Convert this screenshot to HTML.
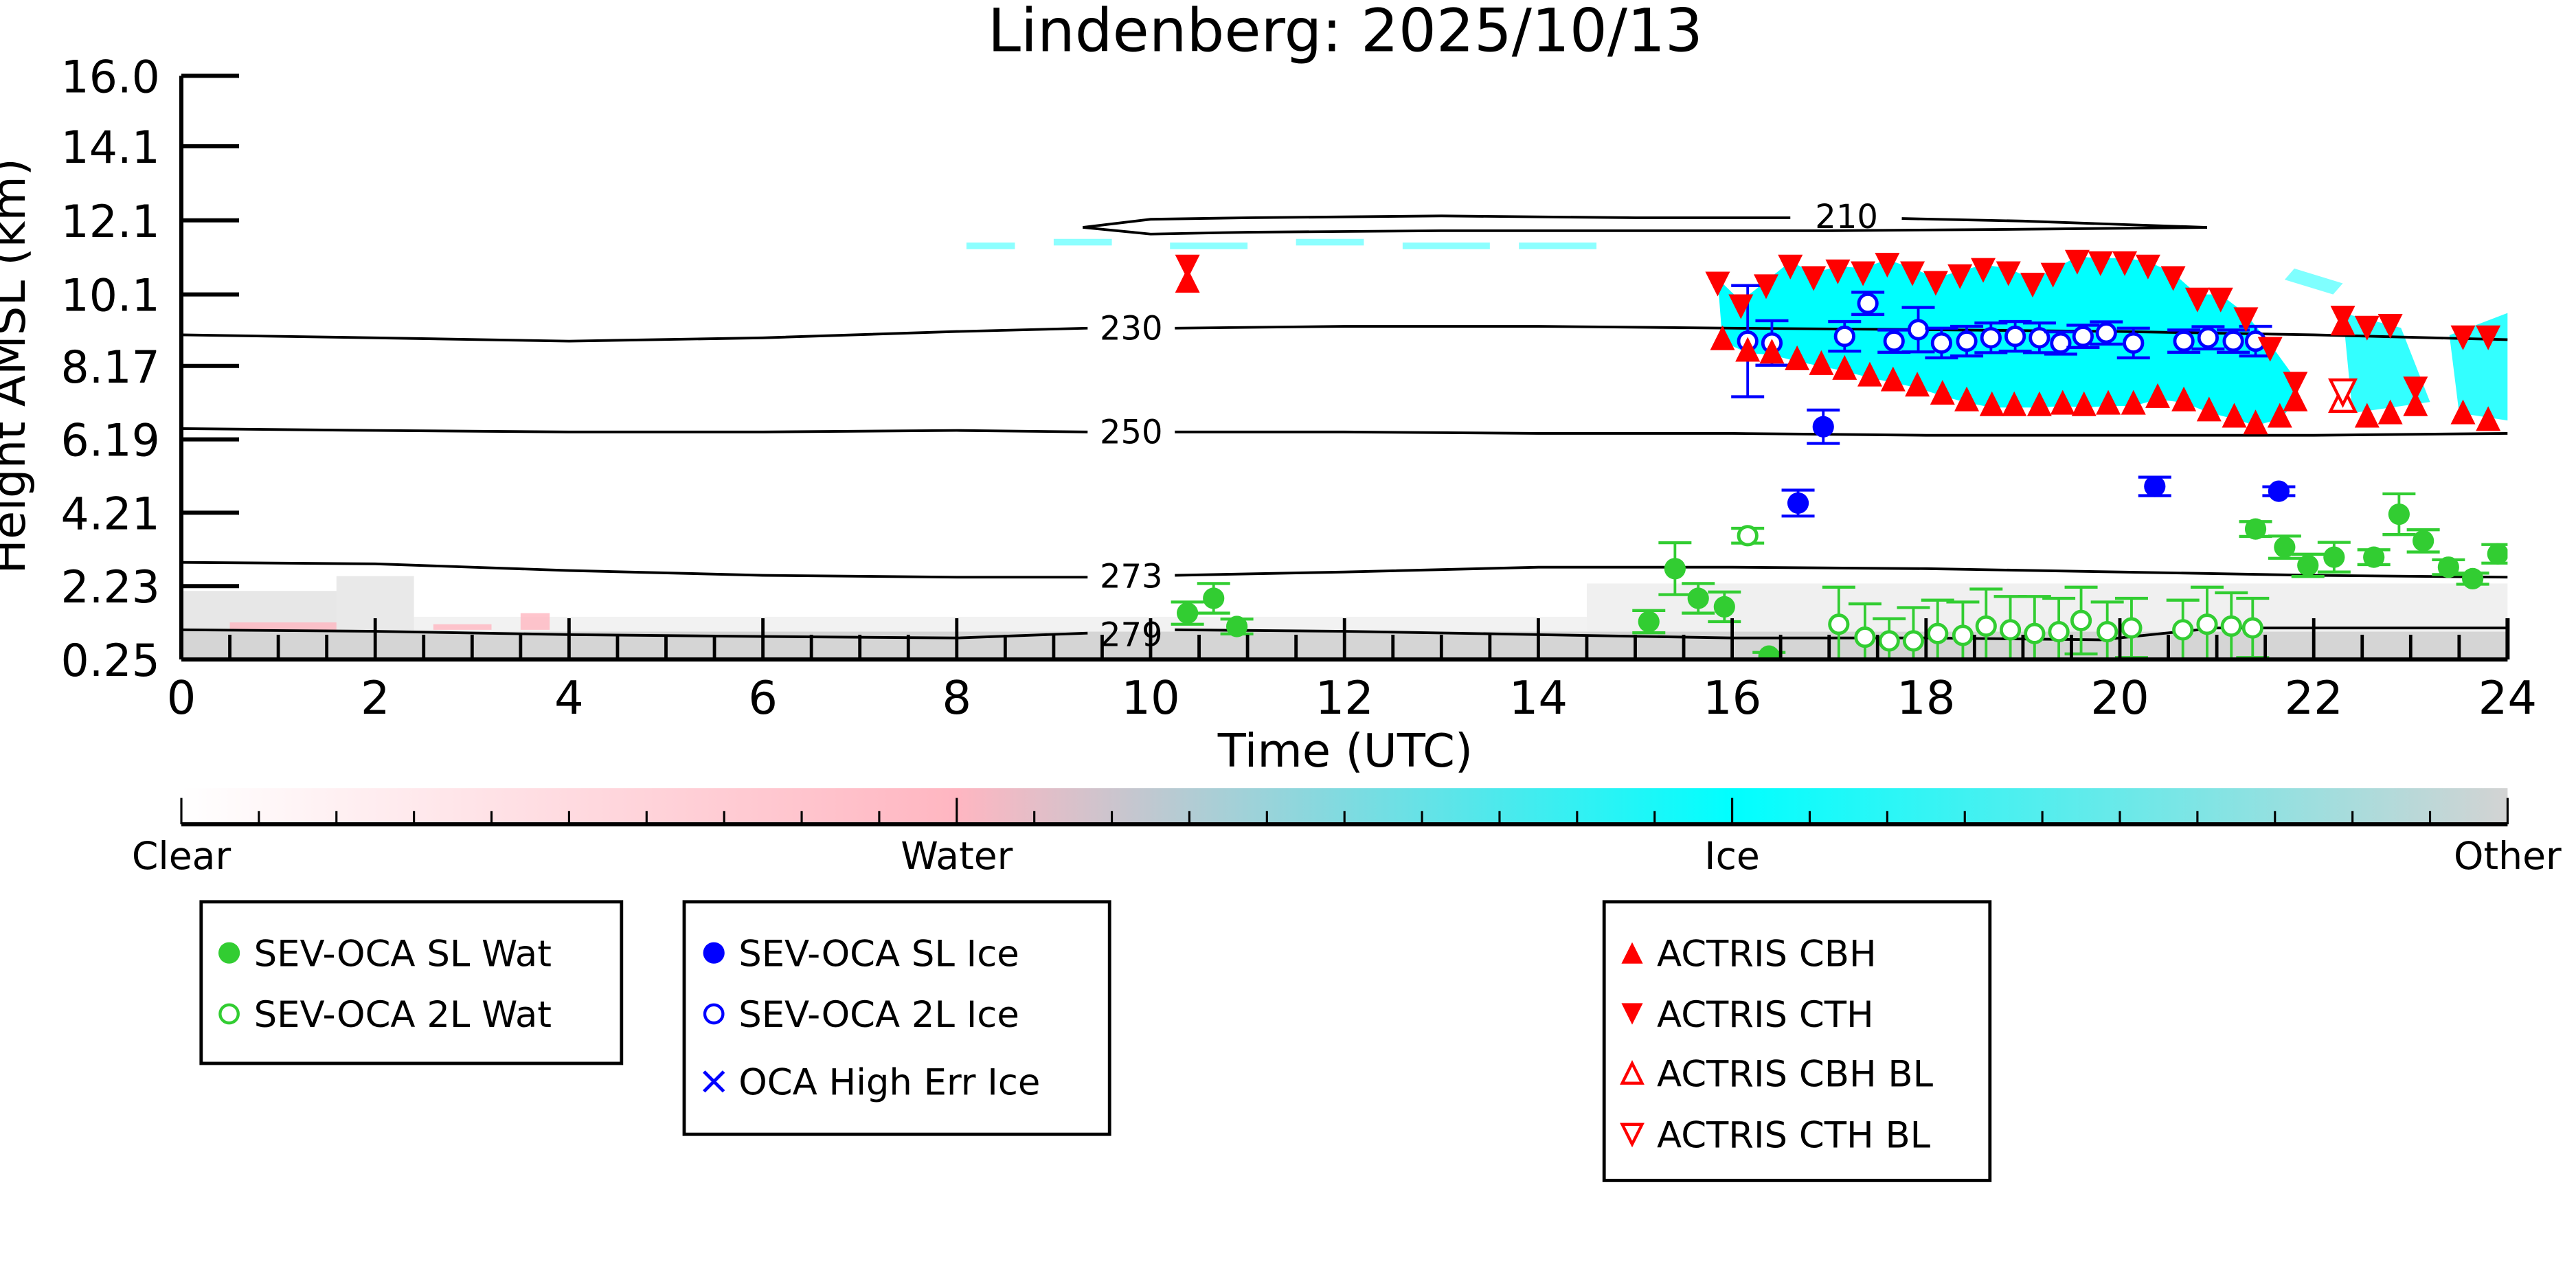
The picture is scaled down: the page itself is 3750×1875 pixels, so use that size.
<!DOCTYPE html>
<html><head><meta charset="utf-8"><style>
html,body{margin:0;padding:0;background:#fff;}
svg{display:block;font-family:"DejaVu Sans","Liberation Sans",sans-serif;}
</style></head><body>
<svg id="chart" width="3750" height="1875" viewBox="0 0 1562.5 781.25" xmlns="http://www.w3.org/2000/svg">
<defs>
<linearGradient id="cbar" x1="0" x2="1" y1="0" y2="0">
<stop offset="0" stop-color="#ffffff"/>
<stop offset="0.333" stop-color="#ffb6c1"/>
<stop offset="0.667" stop-color="#00ffff"/>
<stop offset="1" stop-color="#d3d3d3"/>
</linearGradient>
<clipPath id="plotclip"><rect x="110" y="46" width="1411" height="354"/></clipPath>
</defs>
<text x="816" y="31" font-size="36" text-anchor="middle">Lindenberg: 2025/10/13</text>
<g id="plot" clip-path="url(#plotclip)"></g>
<g id="axes"></g>
<text x="816" y="465" font-size="28" text-anchor="middle">Time (UTC)</text>
<text transform="translate(15,222) rotate(-90)" font-size="28" text-anchor="middle">Height AMSL (km)</text>
<g id="colorbar">
<rect x="110" y="478" width="1411" height="22" fill="url(#cbar)"/>
</g>
<g id="legends"></g>
</svg>
<script>
// ---- data ----
const yTicks = [0.25, 2.23, 4.21, 6.19, 8.17, 10.1, 12.1, 14.1, 16.0];
const yTickLabels = ["0.25","2.23","4.21","6.19","8.17","10.1","12.1","14.1","16.0"];
const xTicks = [0,2,4,6,8,10,12,14,16,18,20,22,24];

const slWatH = [10.38,10.65,10.89,15.14,15.41,15.65,15.92,16.38,21.40,21.70,21.94,22.21,22.62,22.88,23.13,23.39,23.64,23.90];
const slWatKm = [1.50,1.90,1.14,1.27,2.70,1.90,1.67,0.34,3.77,3.28,2.79,3.01,3.01,4.17,3.45,2.74,2.43,3.10];
const slWatErr = [0.3,0.4,0.2,0.3,0.7,0.4,0.4,0.1,0.2,0.3,0.3,0.4,0.2,0.55,0.3,0.2,0.15,0.25];

const twoLWatH = [16.16,17.10,17.37,17.62,17.87,18.12,18.38,18.62,18.87,19.12,19.37,19.60,19.87,20.12,20.65,20.90,21.15,21.37];
const twoLWatKm = [3.59,1.20,0.85,0.75,0.75,0.95,0.90,1.15,1.05,0.95,1.00,1.30,1.00,1.10,1.05,1.20,1.15,1.10];
const twoLWatErr = [0.2,1.0,0.9,0.6,0.9,0.9,0.9,1.0,0.9,1.0,0.9,0.9,0.8,0.8,0.8,1.0,0.9,0.8];

const slIceH = [16.68,16.94,20.36,21.64];
const slIceKm = [4.47,6.53,4.92,4.79];
const slIceErr = [0.35,0.45,0.25,0.12];

const twoLIceH = [16.16,16.41,17.16,17.40,17.67,17.92,18.16,18.42,18.67,18.92,19.17,19.39,19.62,19.86,20.14,20.66,20.91,21.17,21.40];
const twoLIceKm = [8.84,8.79,8.97,9.86,8.84,9.15,8.79,8.84,8.93,8.97,8.93,8.79,8.97,9.06,8.79,8.84,8.93,8.84,8.84];
const twoLIceErr = [1.5,0.6,0.4,0.3,0.3,0.6,0.4,0.4,0.4,0.4,0.4,0.3,0.3,0.3,0.4,0.3,0.3,0.3,0.4];

const cbhH = [10.38,15.90,16.16,16.41,16.67,16.92,17.16,17.42,17.66,17.91,18.17,18.42,18.68,18.91,19.17,19.41,19.63,19.88,20.14,20.39,20.66,20.92,21.18,21.40,21.65,21.81,22.30,22.55,22.79,23.05,23.54,23.80];
const cbhKm = [10.48,8.93,8.62,8.57,8.39,8.26,8.13,7.95,7.82,7.68,7.46,7.28,7.15,7.15,7.15,7.19,7.15,7.19,7.19,7.37,7.28,7.01,6.84,6.66,6.84,7.28,9.33,6.84,6.93,7.15,6.93,6.75];
const cthH = [10.38,15.85,16.09,16.35,16.60,16.84,17.09,17.35,17.60,17.86,18.10,18.35,18.59,18.85,19.10,19.31,19.56,19.80,20.05,20.29,20.55,20.80,21.04,21.30,21.55,21.81,22.30,22.55,22.79,23.05,23.54,23.80];
const cthKm = [10.84,10.38,9.77,10.31,10.84,10.53,10.71,10.66,10.89,10.66,10.40,10.58,10.75,10.66,10.35,10.62,10.97,10.93,10.93,10.84,10.53,9.95,9.95,9.42,8.62,7.68,9.46,9.19,9.24,7.55,8.93,8.93];
const cbhBlH = [22.30];
const cbhBlKm = [7.28];
const cthBlH = [22.30];
const cthBlKm = [7.46];

// temperature contours (hours, km)
const c230H = [0,2,4,6,8,9.35,10.25,12,14,16,18,20,22,24];
const c230Km = [9.01,8.93,8.84,8.93,9.10,9.19,9.19,9.24,9.24,9.19,9.15,9.10,9.01,8.88];
const c250H = [0,2,4,6,8,9.35,10.25,12,14,16,18,20,22,24];
const c250Km = [6.48,6.43,6.39,6.39,6.43,6.39,6.39,6.39,6.35,6.35,6.30,6.30,6.30,6.35];
const c273H = [0,2,4,6,8,9.35,10.25,12,14,16,18,20,22,24];
const c273Km = [2.87,2.83,2.65,2.52,2.47,2.47,2.52,2.61,2.74,2.74,2.70,2.61,2.52,2.47];
const c279H = [0,2,4,6,8,9.35,10.25,12,14,16,18,19.8,21,24];
const c279Km = [1.05,1.01,0.92,0.87,0.83,0.96,1.05,1.01,0.92,0.83,0.83,0.78,1.10,1.10];
const c210TopH = [9.3,10,11,13,15,17,19,20.9];
const c210TopKm = [11.91,12.13,12.17,12.22,12.17,12.17,12.08,11.91];
const c210BotH = [20.9,19,17,15,13,11,10,9.3];
const c210BotKm = [11.91,11.86,11.82,11.82,11.82,11.78,11.73,11.91];

const cbarLabels = ["Clear","Water","Ice","Other"];

// ---- scales ----
const X0=110, X1=1521, Y0=400, Y1=46;
function xs(h){return X0+(h/24)*(X1-X0);}
function ys(k){return Y0-(k-0.25)/(16.0-0.25)*(Y0-Y1);}
const NS="http://www.w3.org/2000/svg";
function el(tag,attrs,parent){const e=document.createElementNS(NS,tag);for(const k in attrs)e.setAttribute(k,attrs[k]);parent.appendChild(e);return e;}
const plot=document.getElementById('plot');
const axes=document.getElementById('axes');

// ---- background radar texture (decorative) ----
const bg=el('g',{},plot);


el('rect',{x:X0,y:ys(1.0),width:X1-X0,height:Y0-ys(1.0),fill:'#d3d3d3',opacity:0.95},bg);
el('rect',{x:xs(0),y:ys(2.1),width:xs(1.6)-xs(0),height:ys(1.0)-ys(2.1),fill:'#d3d3d3',opacity:0.55},bg);
el('rect',{x:xs(1.6),y:ys(2.5),width:xs(2.4)-xs(1.6),height:ys(1.0)-ys(2.5),fill:'#d3d3d3',opacity:0.5},bg);
el('rect',{x:xs(14.5),y:ys(2.3),width:xs(24)-xs(14.5),height:ys(1.0)-ys(2.3),fill:'#d3d3d3',opacity:0.35},bg);
el('rect',{x:xs(2.4),y:ys(1.4),width:xs(14.5)-xs(2.4),height:ys(1.0)-ys(1.4),fill:'#d3d3d3',opacity:0.3},bg);
el('rect',{x:xs(0.5),y:ys(1.25),width:xs(1.6)-xs(0.5),height:ys(1.05)-ys(1.25),fill:'#ffb6c1',opacity:0.8},bg);
el('rect',{x:xs(2.6),y:ys(1.2),width:xs(3.2)-xs(2.6),height:ys(1.05)-ys(1.2),fill:'#ffb6c1',opacity:0.8},bg);
el('rect',{x:xs(3.5),y:ys(1.5),width:xs(3.8)-xs(3.5),height:ys(1.05)-ys(1.5),fill:'#ffb6c1',opacity:0.8},bg);
// ice cloud
let ptsTop=[],ptsBot=[];
for(let i=1;i<26;i++){ptsTop.push(xs(cthH[i])+','+ys(cthKm[i]+0.15));}
for(let i=25;i>=1;i--){ptsBot.push(xs(cbhH[i])+','+ys(cbhKm[i]-0.1));}
el('polygon',{points:ptsTop.concat(ptsBot).join(' '),fill:'#00ffff'},bg);
el('polygon',{points:[xs(22.3)+','+ys(9.6),xs(22.9)+','+ys(9.2),xs(23.2)+','+ys(7.2),xs(22.4)+','+ys(6.9)].join(' '),fill:'#00ffff',opacity:0.8},bg);
el('polygon',{points:[xs(23.4)+','+ys(9.0),xs(24)+','+ys(9.6),xs(24)+','+ys(6.7),xs(23.5)+','+ys(6.9)].join(' '),fill:'#00ffff',opacity:0.8},bg);
el('polygon',{points:[xs(21.8)+','+ys(10.8),xs(22.3)+','+ys(10.4),xs(22.2)+','+ys(10.1),xs(21.7)+','+ys(10.5)].join(' '),fill:'#00ffff',opacity:0.5},bg);
[[8.1,11.5,0.5],[9.0,11.6,0.6],[10.2,11.5,0.8],[11.5,11.6,0.7],[12.6,11.5,0.9],[13.8,11.5,0.8]].forEach(p=>{
  el('rect',{x:xs(p[0]),y:ys(p[1]),width:xs(p[0]+p[2])-xs(p[0]),height:4,fill:'#00ffff',opacity:0.45},bg);
});

// ---- contours ----
function contour(H,K,name){
  const g=el('polyline',{points:H.map((h,i)=>xs(h)+','+ys(K[i])).join(' '),fill:'none',stroke:'#000','stroke-width':1.6},plot);
  
  
}
contour(c230H.slice(0,6),c230Km.slice(0,6),'contour-230');
contour(c230H.slice(6),c230Km.slice(6),'contour-230-right');
contour(c250H.slice(0,6),c250Km.slice(0,6),'contour-250');
contour(c250H.slice(6),c250Km.slice(6),'contour-250-right');
contour(c273H.slice(0,6),c273Km.slice(0,6),'contour-273');
contour(c273H.slice(6),c273Km.slice(6),'contour-273-right');
contour(c279H.slice(0,6),c279Km.slice(0,6),'contour-279');
contour(c279H.slice(6),c279Km.slice(6),'contour-279-right');
contour(c210TopH.slice(0,5).concat([16.6]),c210TopKm.slice(0,5).concat([12.17]),'contour-210-top');
contour([17.75].concat(c210TopH.slice(6)),[12.15].concat(c210TopKm.slice(6)),'contour-210-top-right');
contour(c210BotH,c210BotKm,'contour-210-bottom');
function clabel(txt,h,k,name){const t=el('text',{x:xs(h),y:ys(k)+7,'font-size':20,'text-anchor':'middle'},plot);t.textContent=txt;

}
clabel('230',9.8,9.19,'contour-label-230');
clabel('250',9.8,6.39,'contour-label-250');
clabel('273',9.8,2.50,'contour-label-273');
clabel('279',9.8,0.92,'contour-label-279');
clabel('210',17.18,12.2,'contour-label-210');

// ---- markers ----
function errbar(h,k,e,color,g){
  const x=xs(h),y1=ys(k+e),y2=ys(k-e);
  el('line',{x1:x,x2:x,y1:y1,y2:y2,stroke:color,'stroke-width':1.6},g);
  el('line',{x1:x-10,x2:x+10,y1:y1,y2:y1,stroke:color,'stroke-width':1.8},g);
  el('line',{x1:x-10,x2:x+10,y1:y2,y2:y2,stroke:color,'stroke-width':1.8},g);
}
function circles(H,K,E,color,filled,name){
  const g=el('g',{},plot);
  
  
  H.forEach((h,i)=>{
    errbar(h,K[i],E[i],color,g);
    const c=el('circle',{cx:xs(h),cy:ys(K[i]),r:filled?6.5:5.5,fill:filled?color:'#fff',stroke:color,'stroke-width':filled?0:2},g);
    
    
  });
}
circles(slWatH,slWatKm,slWatErr,'#32cd32',true,'sev-oca-sl-wat');
circles(twoLWatH,twoLWatKm,twoLWatErr,'#32cd32',false,'sev-oca-2l-wat');
circles(slIceH,slIceKm,slIceErr,'#0000ff',true,'sev-oca-sl-ice');
circles(twoLIceH,twoLIceKm,twoLIceErr,'#0000ff',false,'sev-oca-2l-ice');
function tri(x,y,up,filled,color,g,s){
  s=s||7.5;
  const p=up?[x+','+(y-s),(x-s)+','+(y+s),(x+s)+','+(y+s)]:[x+','+(y+s),(x-s)+','+(y-s),(x+s)+','+(y-s)];
  return el('polygon',{points:p.join(' '),fill:filled?color:'#fff',stroke:color,'stroke-width':filled?0:1.8},g);
}
function tris(H,K,up,filled,name){
  const g=el('g',{},plot);
  
  
  H.forEach((h,i)=>{const t=tri(xs(h),ys(K[i]),up,filled,'#ff0000',g);
    
    });
}
tris(cbhH,cbhKm,true,true,'actris-cbh');
tris(cthH,cthKm,false,true,'actris-cth');
tris(cbhBlH,cbhBlKm,true,false,'actris-cbh-bl');
tris(cthBlH,cthBlKm,false,false,'actris-cth-bl');

// ---- axes ----
el('line',{x1:X0,x2:X0,y1:Y1,y2:Y0,stroke:'#000','stroke-width':2.5},axes);
el('line',{x1:X0,x2:X1,y1:Y0,y2:Y0,stroke:'#000','stroke-width':2.5},axes);
el('line',{x1:X1,x2:X1,y1:Y0-25,y2:Y0,stroke:'#000','stroke-width':2.5},axes);
yTicks.forEach((v,i)=>{
  const y=ys(v);
  const l=el('line',{x1:X0,x2:X0+35,y1:y,y2:y,stroke:'#000','stroke-width':2.5},axes);
  
  
  const t=el('text',{x:97,y:y+10,'font-size':27,'text-anchor':'end'},axes);t.textContent=yTickLabels[i];
  
  
});
for(let h=0;h<=24;h+=0.5){
  const x=xs(h),major=(h%2===0);
  el('line',{x1:x,x2:x,y1:Y0,y2:Y0-(major?25:15),stroke:'#000','stroke-width':2},axes);
}
xTicks.forEach(h=>{
  const t=el('text',{x:xs(h),y:Y0+33,'font-size':28,'text-anchor':'middle'},axes);t.textContent=String(h);
  
  
});

// ---- colorbar ----
const cb=document.getElementById('colorbar');
el('line',{x1:110,x2:1521,y1:500,y2:500,stroke:'#000','stroke-width':2.5},cb);
for(let i=0;i<=30;i++){
  const x=110+i*(1411/30);const maj=(i%10===0);
  el('line',{x1:x,x2:x,y1:500,y2:maj?484:492,stroke:'#000','stroke-width':1.3},cb);
}
cbarLabels.forEach((s,i)=>{
  const t=el('text',{x:110+i*(1411/3),y:527,'font-size':23,'text-anchor':'middle'},cb);t.textContent=s;
  
  
});

// ---- legends ----
const lg=document.getElementById('legends');
function box(x,y,w,h,name){const r=el('rect',{x:x,y:y,width:w,height:h,fill:'#fff',stroke:'#000','stroke-width':2},lg);

}
box(122,547,255,98,'legend-box-water');
box(415,547,258,141,'legend-box-ice');
box(973,547,234,169,'legend-box-actris');
function entry(x,y,text,kind,name){
  const g=el('g',{},lg);
  
  
  const mx=x+11;
  if(kind==='gf')el('circle',{cx:mx,cy:y,r:6.5,fill:'#32cd32'},g);
  if(kind==='go')el('circle',{cx:mx,cy:y,r:5.5,fill:'#fff',stroke:'#32cd32','stroke-width':1.8},g);
  if(kind==='bf')el('circle',{cx:mx,cy:y,r:6.5,fill:'#0000ff'},g);
  if(kind==='bo')el('circle',{cx:mx,cy:y,r:5.5,fill:'#fff',stroke:'#0000ff','stroke-width':1.8},g);
  if(kind==='bx'){el('line',{x1:mx-6,x2:mx+6,y1:y-6,y2:y+6,stroke:'#0000ff','stroke-width':2},g);el('line',{x1:mx-6,x2:mx+6,y1:y+6,y2:y-6,stroke:'#0000ff','stroke-width':2},g);}
  if(kind==='ru')tri(mx,y,true,true,'#ff0000',g,6.5);
  if(kind==='rd')tri(mx,y,false,true,'#ff0000',g,6.5);
  if(kind==='ruo')tri(mx,y,true,false,'#ff0000',g,6);
  if(kind==='rdo')tri(mx,y,false,false,'#ff0000',g,6);
  const t=el('text',{x:x+26,y:y+8,'font-size':22},g);t.textContent=text;
}
entry(128,578,'SEV-OCA SL Wat','gf','legend-sl-wat');
entry(128,615,'SEV-OCA 2L Wat','go','legend-2l-wat');
entry(422,578,'SEV-OCA SL Ice','bf','legend-sl-ice');
entry(422,615,'SEV-OCA 2L Ice','bo','legend-2l-ice');
entry(422,656,'OCA High Err Ice','bx','legend-high-err-ice');
entry(979,578,'ACTRIS CBH','ru','legend-cbh');
entry(979,615,'ACTRIS CTH','rd','legend-cth');
entry(979,651,'ACTRIS CBH BL','ruo','legend-cbh-bl');
entry(979,688,'ACTRIS CTH BL','rdo','legend-cth-bl');
</script>
</body></html>
